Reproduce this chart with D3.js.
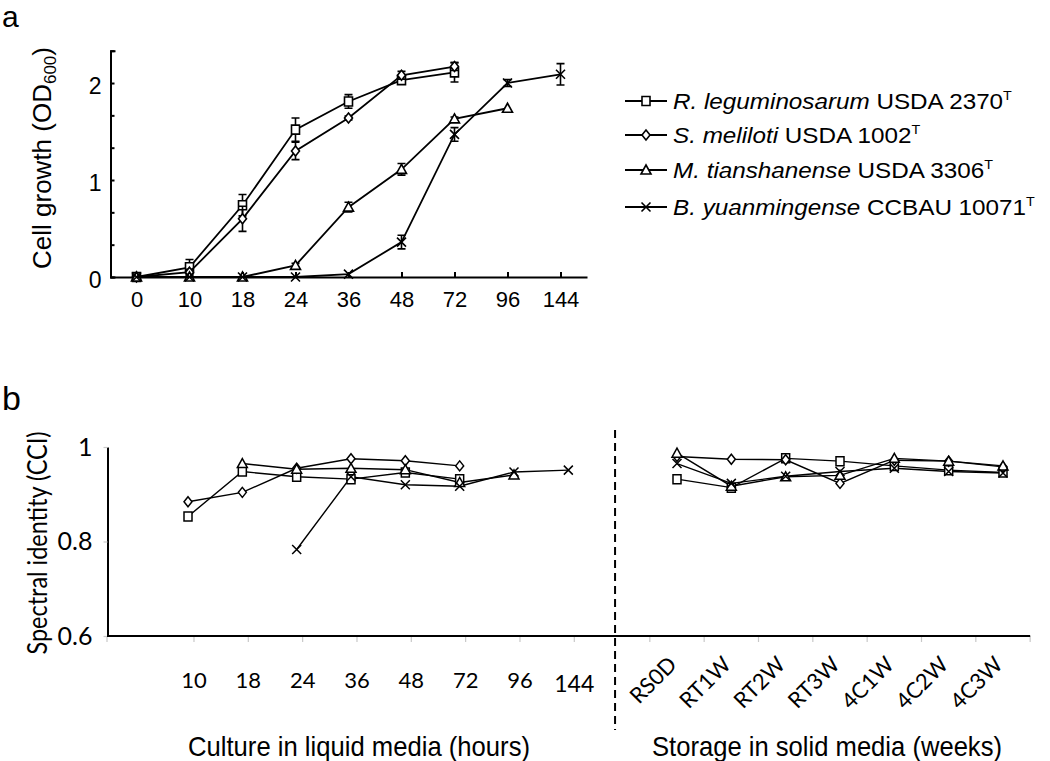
<!DOCTYPE html>
<html><head><meta charset="utf-8">
<script src="https://cdn.jsdelivr.net/npm/d3@7"></script>
<style>body{margin:0;background:#fff} svg{display:block}</style>
</head><body>
<script>
// ---------- Panel a data ----------
const hoursA = ["0","10","18","24","36","48","72","96","144"];
const speciesNames = ["R. leguminosarum","S. meliloti","M. tianshanense","B. yuanmingense"];
const strainNames = ["USDA 2370","USDA 1002","USDA 3306","CCBAU 10071"];
const symbolTypes = ["square","diamond","triangle","cross"];
const rlegA    = [0,0.10,0.74,1.52,1.81,2.03,2.11,null,null];
const rlegAErr = [0,0.08,0.11,0.12,0.07,0.04,0.10,null,null];
const smelA    = [0,0.05,0.60,1.30,1.64,2.08,2.17,null,null];
const smelAErr = [0,0.03,0.13,0.09,0.02,0.04,0.04,null,null];
const mtiaA    = [0,0,0,0.12,0.72,1.11,1.63,1.74,null];
const mtiaAErr = [0,0,0,0.02,0.05,0.06,0.02,0.01,null];
const byuaA    = [0,0,0,0,0.03,0.36,1.47,2.00,2.09];
const byuaAErr = [0,0,0,0,0.01,0.07,0.07,0.035,0.11];
const yTicksA  = [0,1/3,2/3,1,4/3,5/3,2,7/3];
const yLabelsA = ["0","","","1","","","2",""];

// ---------- Panel b data ----------
const liquidCats = ["10","18","24","36","48","72","96","144"];
const solidCats  = ["RS0D","RT1W","RT2W","RT3W","4C1W","4C2W","4C3W"];
const rlegBLiq = [0.853,0.948,0.937,0.932,0.946,0.932,null,null];
const smelBLiq = [0.884,0.904,0.955,0.975,0.971,0.960,null,null];
const mtiaBLiq = [null,0.965,0.953,0.955,0.952,0.925,0.941,null];
const byuaBLiq = [null,null,0.783,0.937,0.920,0.917,0.947,0.951];
const rlegBSol = [0.932,0.914,0.976,0.970,0.960,0.951,0.946];
const smelBSol = [0.980,0.974,0.973,0.923,0.972,0.970,0.958];
const mtiaBSol = [0.987,0.917,0.937,0.940,0.976,0.970,0.960];
const byuaBSol = [0.965,0.923,0.938,0.948,0.955,0.948,0.945];
const yTicksB = [0.6,0.8,1];

const W = 1050, H = 761;
const svg = d3.select("body").append("svg").attr("width",W).attr("height",H)
  .style("font-family","'Liberation Sans', Arial, sans-serif");

function symbolPath(t){
  switch(t){
    case "square": return "M-4,-4.5H4V4.5H-4Z";
    case "diamond": return "M0,-5L4,0L0,5L-4,0Z";
    case "triangle": return "M0,-5L5,4L-5,4Z";
    default: return "M-4.5,-4.5L4.5,4.5M-4.5,4.5L4.5,-4.5";
  }
}

// ================= Panel a =================
const xA = d3.scalePoint().domain(hoursA).range([110,587]).padding(0.5);
const yA = d3.scaleLinear().domain([0,7/3]).range([277,50.7]);
const gA = svg.append("g");

const yAxisA = d3.axisLeft(yA).tickValues(yTicksA).tickFormat((d,i)=>yLabelsA[i])
  .tickSizeInner(-4).tickSizeOuter(-5).tickPadding(9);
const yAG = gA.append("g").attr("transform","translate(110.5,0)").call(yAxisA);
yAG.selectAll("path,line").attr("stroke","#000").attr("stroke-width",2);
yAG.selectAll("text").attr("font-size",23).attr("font-family","'Liberation Sans', Arial, sans-serif").attr("fill","#000").attr("dy","0.45em");

const xAxisA = d3.axisBottom(xA).tickSizeInner(-5).tickSizeOuter(0).tickPadding(14);
const xAG = gA.append("g").attr("transform","translate(0,277)").call(xAxisA);
xAG.selectAll("path,line").attr("stroke","#000").attr("stroke-width",2);
xAG.selectAll("text").attr("font-size",22).attr("font-family","'Liberation Sans', Arial, sans-serif").attr("fill","#000");

const seriesA = [[rlegA,rlegAErr],[smelA,smelAErr],[mtiaA,mtiaAErr],[byuaA,byuaAErr]];
const lineA = d3.line().defined(d=>d.v!=null).x(d=>xA(d.c)).y(d=>yA(d.v));
seriesA.forEach(([vals,errs],si)=>{
  const pts = vals.map((v,i)=>({c:hoursA[i],v,e:errs[i]}));
  gA.append("path").attr("d",lineA(pts)).attr("fill","none").attr("stroke","#000").attr("stroke-width",1.8);
  const valid = pts.filter(p=>p.v!=null);
  valid.filter(p=>p.e>0.015).forEach(p=>{
    const x=xA(p.c), y1=yA(p.v+p.e), y2=yA(p.v-p.e);
    gA.append("path").attr("d",`M${x},${y1}V${y2}M${x-4},${y1}H${x+4}M${x-4},${y2}H${x+4}`)
      .attr("stroke","#000").attr("stroke-width",1.6).attr("fill","none");
  });
  gA.selectAll(null).data(valid).enter().append("path")
    .attr("transform",p=>`translate(${xA(p.c)},${yA(p.v)})`)
    .attr("d",symbolPath(symbolTypes[si]))
    .attr("fill",symbolTypes[si]==="cross"?"none":"#fff").attr("stroke","#000").attr("stroke-width",1.6);
});

// y title a
const yTA = gA.append("text").attr("transform","translate(51,158) rotate(-90)")
  .attr("text-anchor","middle").attr("font-size",26).attr("fill","#000");
yTA.append("tspan").text("Cell growth (OD");
yTA.append("tspan").text("600").attr("font-size",17).attr("dy",5);
yTA.append("tspan").text(")").attr("dy",-5);

// legend
const legRows = [101,135,170,207];
const legG = svg.append("g");
legRows.forEach((ry,i)=>{
  legG.append("line").attr("x1",625).attr("x2",667).attr("y1",ry).attr("y2",ry).attr("stroke","#000").attr("stroke-width",1.8);
  legG.append("path").attr("transform",`translate(646,${ry})`).attr("d",symbolPath(symbolTypes[i]))
    .attr("fill",symbolTypes[i]==="cross"?"none":"#fff").attr("stroke","#000").attr("stroke-width",1.6);
});
const legTexts = [];
legRows.forEach((ry,i)=>{
  const tg = legG.append("g").attr("transform",`translate(673,${ry+8})`);
  const t = tg.append("text").attr("font-size",22).attr("fill","#000");
  t.append("tspan").text(speciesNames[i]).attr("font-style","italic");
  t.append("tspan").text(" "+strainNames[i]);
  t.append("tspan").text("T").attr("font-size",13).attr("dy",-9);
  legTexts.push([tg,t]);
});
const lastLen = legTexts[3][1].node().getComputedTextLength();
const sx = 362/lastLen;
legTexts.forEach(([tg],i)=>tg.attr("transform",`translate(673,${legRows[i]+8}) scale(${sx},1)`));

// panel labels
svg.append("text").attr("x",2).attr("y",27).attr("font-size",30).text("a");
svg.append("text").attr("x",2).attr("y",410).attr("font-size",34).text("b");

// ================= Panel b =================
const gB = svg.append("g");
const xB = d3.scaleLinear().domain([0,15]).range([188,1003]);
const yB = d3.scaleLinear().domain([0.6,1]).range([636,447]);
const solidStart = 9;
const dividerIdx = 7.86;

const yAxisB = d3.axisLeft(yB).tickValues(yTicksB).tickFormat(d=>d===1?"1":d.toFixed(1))
  .tickSizeInner(4).tickSizeOuter(0).tickPadding(11);
const yBG = gB.append("g").attr("transform","translate(107.5,0)").call(yAxisB);
yBG.select(".domain").attr("stroke","#000").attr("stroke-width",2);
yBG.selectAll(".tick line").attr("stroke","#c8c8c8").attr("stroke-width",1.2);
yBG.selectAll("text").attr("font-size",25).attr("font-family","Lato, 'Open Sans', sans-serif").attr("fill","#000");

// x axis line and ticks
const tickIdx = [xB.invert(107)].concat(liquidCats.map((c,i)=>i+0.11))
  .concat(d3.range(solidStart-0.5, solidStart+solidCats.length, 1));
gB.selectAll(null).data(tickIdx).enter().append("line")
  .attr("x1",d=>xB(d)).attr("x2",d=>xB(d)).attr("y1",636).attr("y2",642)
  .attr("stroke","#c8c8c8").attr("stroke-width",1.2);
gB.append("line").attr("x1",107).attr("x2",xB(solidStart+solidCats.length-0.5)).attr("y1",636).attr("y2",636)
  .attr("stroke","#000").attr("stroke-width",2);

// x labels
gB.selectAll(null).data(liquidCats).enter().append("text")
  .attr("x",(d,i)=>xB(i+0.11)).attr("y",(d,i)=>i===liquidCats.length-1?692:688)
  .attr("text-anchor","middle").attr("font-family","Lato, sans-serif").attr("font-size",(d,i)=>i===liquidCats.length-1?23:22)
  .text(d=>d);
gB.selectAll(null).data(solidCats).enter().append("text")
  .attr("transform",(d,i)=>`translate(${xB(solidStart+i)+1},666) rotate(-45)`)
  .attr("text-anchor","end").attr("font-family","Lato, sans-serif").attr("font-size",22)
  .text(d=>d);

// divider
gB.append("line").attr("x1",xB(dividerIdx)).attr("x2",xB(dividerIdx)).attr("y1",430).attr("y2",730)
  .attr("stroke","#000").attr("stroke-width",2).attr("stroke-dasharray","8,5");

// series b
const seriesB = [[rlegBLiq,rlegBSol],[smelBLiq,smelBSol],[mtiaBLiq,mtiaBSol],[byuaBLiq,byuaBSol]];
const lineB = d3.line().defined(d=>d.v!=null).x(d=>xB(d.i)).y(d=>yB(d.v));
const allPts = [];
seriesB.forEach(([liq,sol],si)=>{
  const p1 = liq.map((v,i)=>({i,v}));
  const p2 = sol.map((v,i)=>({i:solidStart+i,v}));
  gB.append("path").attr("d",lineB(p1)).attr("fill","none").attr("stroke","#000").attr("stroke-width",1.4);
  gB.append("path").attr("d",lineB(p2)).attr("fill","none").attr("stroke","#000").attr("stroke-width",1.4);
  p1.concat(p2).filter(p=>p.v!=null).forEach(p=>allPts.push({...p,si}));
});
gB.selectAll(null).data(allPts).enter().append("path")
  .attr("transform",p=>`translate(${xB(p.i)},${yB(p.v)})`)
  .attr("d",p=>symbolPath(symbolTypes[p.si]))
  .attr("fill",p=>symbolTypes[p.si]==="cross"?"none":"#fff").attr("stroke","#000").attr("stroke-width",1.5);

// y title b
gB.append("text").attr("transform","translate(47,543) rotate(-90)").attr("text-anchor","middle")
  .attr("font-family","Lato, sans-serif").attr("font-size",26).attr("textLength",223).attr("lengthAdjust","spacingAndGlyphs")
  .text("Spectral identity (CCI)");

// x titles b
gB.append("text").attr("x",188).attr("y",756).attr("font-size",28).attr("textLength",342).attr("lengthAdjust","spacingAndGlyphs")
  .text("Culture  in liquid media (hours)");
gB.append("text").attr("x",652).attr("y",756).attr("font-size",28).attr("textLength",350).attr("lengthAdjust","spacingAndGlyphs")
  .text("Storage in solid media (weeks)");
</script>
</body></html>
